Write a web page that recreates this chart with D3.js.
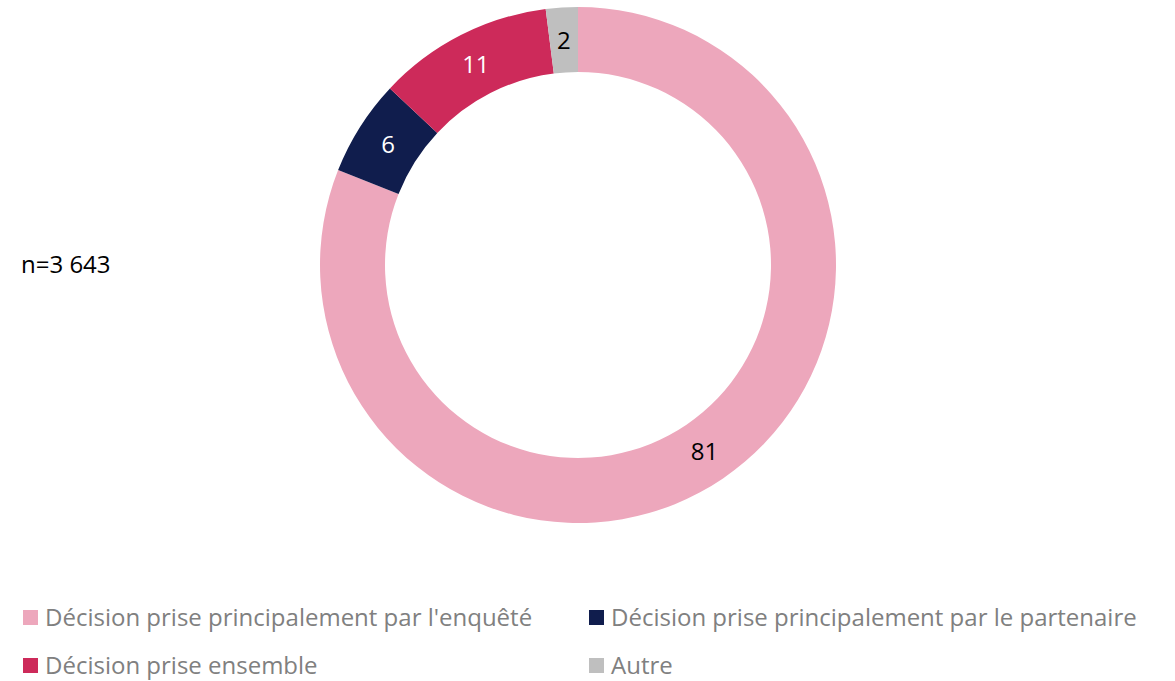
<!DOCTYPE html>
<html>
<head>
<meta charset="utf-8">
<script src="https://cdn.jsdelivr.net/npm/d3@7"></script>
<style>
  body { margin: 0; background: #fff; }
  text { font-family: "Open Sans", sans-serif; }
</style>
</head>
<body>
<div id="chart"></div>
<script>
const categories = [
  "Décision prise principalement par l'enquêté",
  "Décision prise principalement par le partenaire",
  "Décision prise ensemble",
  "Autre"
];
const values = [81, 6, 11, 2];
const colors = ["#EDA7BC", "#101D4D", "#CD2A5A", "#BFBFBF"];
const labelColors = ["#000", "#fff", "#fff", "#000"];
const sampleLabel = "n=3 643";

const width = 1175, height = 681;
const cx = 578, cy = 265;
const outerR = 258, innerR = 193;
const fontSize = 24;

const svg = d3.select('#chart').append('svg')
  .attr('width', width)
  .attr('height', height);

const data = categories.map((c, i) => ({ name: c, value: values[i], i }));

const pie = d3.pie().value(d => d.value).sort(null);
const arc = d3.arc().innerRadius(innerR).outerRadius(outerR);
const labelArc = d3.arc().innerRadius(225).outerRadius(225);

const g = svg.append('g')
  .attr('transform', `translate(${cx}, ${cy})`);

const slices = g.selectAll('g.slice')
  .data(pie(data))
  .enter()
  .append('g')
  .attr('class', 'slice');

slices.append('path')
  .attr('d', arc)
  .attr('fill', d => colors[d.data.i]);

slices.append('text')
  .attr('transform', d => `translate(${labelArc.centroid(d)})`)
  .attr('text-anchor', 'middle')
  .attr('dy', '0.36em')
  .attr('font-size', fontSize)
  .attr('fill', d => labelColors[d.data.i])
  .text(d => d.data.value);

svg.append('text')
  .attr('x', 21)
  .attr('y', 273)
  .attr('font-size', fontSize)
  .attr('fill', '#000')
  .text(sampleLabel);

// legend, 2 columns
const legendX = [23, 589];
const legendY = [617.5, 665.5];
const legend = svg.selectAll('g.legend')
  .data(data)
  .enter()
  .append('g')
  .attr('class', 'legend')
  .attr('transform', d => `translate(${legendX[d.i % 2]}, ${legendY[Math.floor(d.i / 2)]})`);

legend.append('rect')
  .attr('x', 0)
  .attr('y', -7.5)
  .attr('width', 15)
  .attr('height', 15)
  .attr('fill', d => colors[d.i]);

legend.append('text')
  .attr('x', 22)
  .attr('dy', '0.36em')
  .attr('font-size', fontSize)
  .attr('fill', '#808080')
  .text(d => d.name);
</script>
</body>
</html>
